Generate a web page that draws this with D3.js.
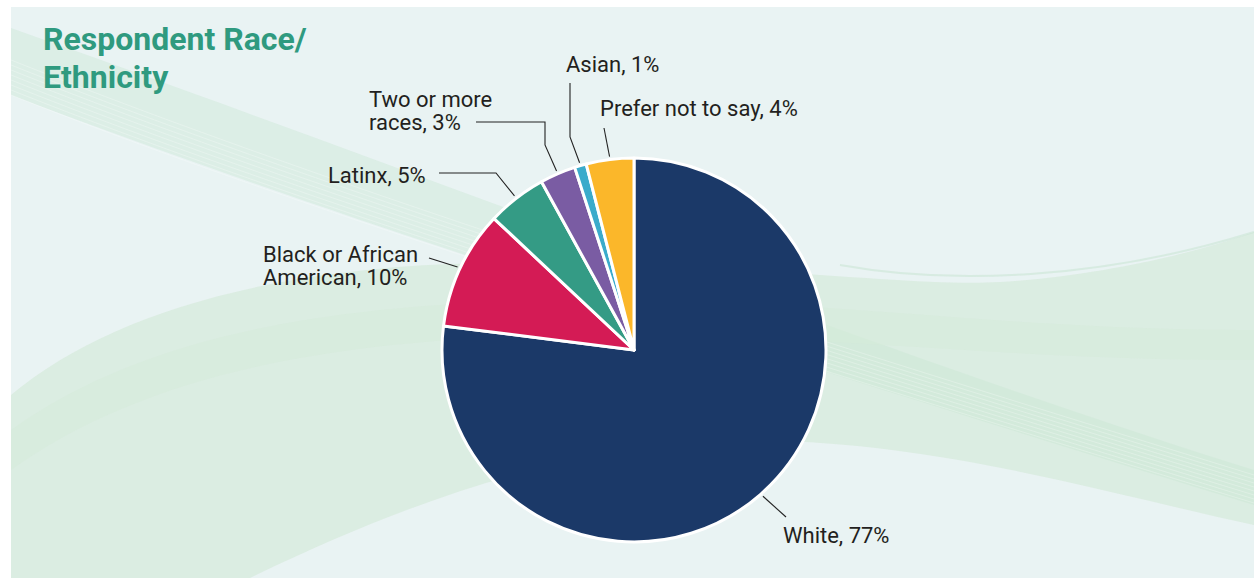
<!DOCTYPE html>
<html>
<head>
<meta charset="utf-8">
<script src="https://cdn.jsdelivr.net/npm/d3@7"></script>
<style>
  body { margin: 0; background: #fff; }
  svg { display: block; font-family: Roboto, "Noto Sans", sans-serif; }
</style>
</head>
<body>
<div class="chart-wrapper"></div>
<script>
// data
const categories = ['White', 'Black or African American', 'Latinx', 'Two or more races', 'Asian', 'Prefer not to say'];
const percents = [77, 10, 5, 3, 1, 4];
const labelLines = [
    ['White, 77%'],
    ['Black or African', 'American, 10%'],
    ['Latinx, 5%'],
    ['Two or more', 'races, 3%'],
    ['Asian, 1%'],
    ['Prefer not to say, 4%'],
];
const colors = ['#1b3968', '#d41b55', '#349b85', '#7a5ca3', '#3aabcb', '#fbb72a'];
const title = ['Respondent Race/', 'Ethnicity'];

function drawChart() {
    const dims = {
        width: 1254,
        height: 578,
        cx: 634,
        cy: 350,
        radius: 192,
    };

    const wrapper = d3.select('.chart-wrapper')
        .append('svg')
        .attr('width', dims.width)
        .attr('height', dims.height);

    // background panel + soft green waves
    wrapper.append('rect')
        .attr('x', 11).attr('y', 7)
        .attr('width', dims.width - 11).attr('height', dims.height - 7)
        .attr('fill', '#e9f3f3');

    const bg = wrapper.append('g');
    bg.append('path')
        .attr('d', 'M11,395 C100,320 250,272 450,264 C700,256 900,288 1000,282 C1100,276 1200,252 1254,232 L1254,525 C1100,492 900,430 700,442 C550,452 400,505 250,578 L11,578 Z')
        .attr('fill', '#cfe7d3').attr('opacity', 0.55);
    bg.append('path')
        .attr('d', 'M11,28 L11,95 C300,205 700,335 1254,505 L1254,470 C900,360 400,165 11,28 Z')
        .attr('fill', '#c9e5d1').attr('opacity', 0.4);
    bg.append('path')
        .attr('d', 'M11,430 C150,330 350,300 600,300 C850,300 1000,330 1254,330 L1254,360 C1000,360 850,335 600,335 C350,335 150,370 11,470 Z')
        .attr('fill', '#d6ecda').attr('opacity', 0.5);
    d3.range(8).forEach(i => {
        bg.append('path')
            .attr('d', `M11,${60 + i * 5} C300,${175 + i * 5} 700,${305 + i * 4} 1254,${475 + i * 4}`)
            .attr('fill', 'none')
            .attr('stroke', '#ffffff')
            .attr('stroke-opacity', 0.25)
            .attr('stroke-width', 1);
    });
    bg.append('path')
        .attr('d', 'M840,265 C950,285 1100,280 1254,232')
        .attr('fill', 'none').attr('stroke', '#c6e3cf').attr('stroke-width', 2).attr('opacity', 0.5);

    // title
    const titleText = wrapper.append('text')
        .attr('x', 43).attr('y', 50)
        .attr('fill', '#2f9a7f')
        .style('font-size', '32px')
        .style('font-weight', 700);
    title.forEach((t, i) => {
        titleText.append('tspan').attr('x', 43).attr('dy', i === 0 ? 0 : 38).text(t);
    });

    // pie
    const data = categories.map((c, i) => ({ name: c, value: percents[i], color: colors[i], lines: labelLines[i] }));
    const pie = d3.pie().sort(null).value(d => d.value);
    const arcs = pie(data);
    const arc = d3.arc().innerRadius(0).outerRadius(dims.radius);

    const bounds = wrapper.append('g')
        .attr('transform', `translate(${dims.cx}, ${dims.cy})`);

    bounds.selectAll('path.slice')
        .data(arcs)
        .join('path')
        .attr('class', 'slice')
        .attr('d', arc)
        .attr('fill', d => d.data.color)
        .attr('stroke', '#fff')
        .attr('stroke-width', 3)
        .attr('stroke-linejoin', 'round');

    // leader lines: start just outside the slice middle, bend points relative to pie centre
    const leaders = {
        'White': { bends: [[152, 167]], text: [149, 193] },
        'Black or African American': { bends: [[-205, -92]], text: [-371, -88] },
        'Latinx': { bends: [[-138, -177], [-195, -177]], text: [-306, -167] },
        'Two or more races': { bends: [[-89, -205], [-89, -228], [-158, -228]], text: [-265, -243] },
        'Asian': { bends: [[-64, -213], [-64, -267]], text: [-68, -278] },
        'Prefer not to say': { bends: [[-30, -222]], text: [-34, -234] },
    };

    const line = d3.line();
    arcs.forEach(a => {
        const mid = (a.startAngle + a.endAngle) / 2;
        const r0 = dims.radius + 3;
        const start = [r0 * Math.sin(mid), -r0 * Math.cos(mid)];
        const cfg = leaders[a.data.name];
        bounds.append('path')
            .attr('d', line([start, ...cfg.bends]))
            .attr('fill', 'none')
            .attr('stroke', '#222')
            .attr('stroke-width', 1.1);

        const t = bounds.append('text')
            .attr('x', cfg.text[0])
            .attr('y', cfg.text[1])
            .attr('fill', '#231f20')
            .style('font-size', '22px');
        a.data.lines.forEach((l, i) => {
            t.append('tspan').attr('x', cfg.text[0]).attr('dy', i === 0 ? 0 : 23).text(l);
        });
    });
}

drawChart();
</script>
</body>
</html>
